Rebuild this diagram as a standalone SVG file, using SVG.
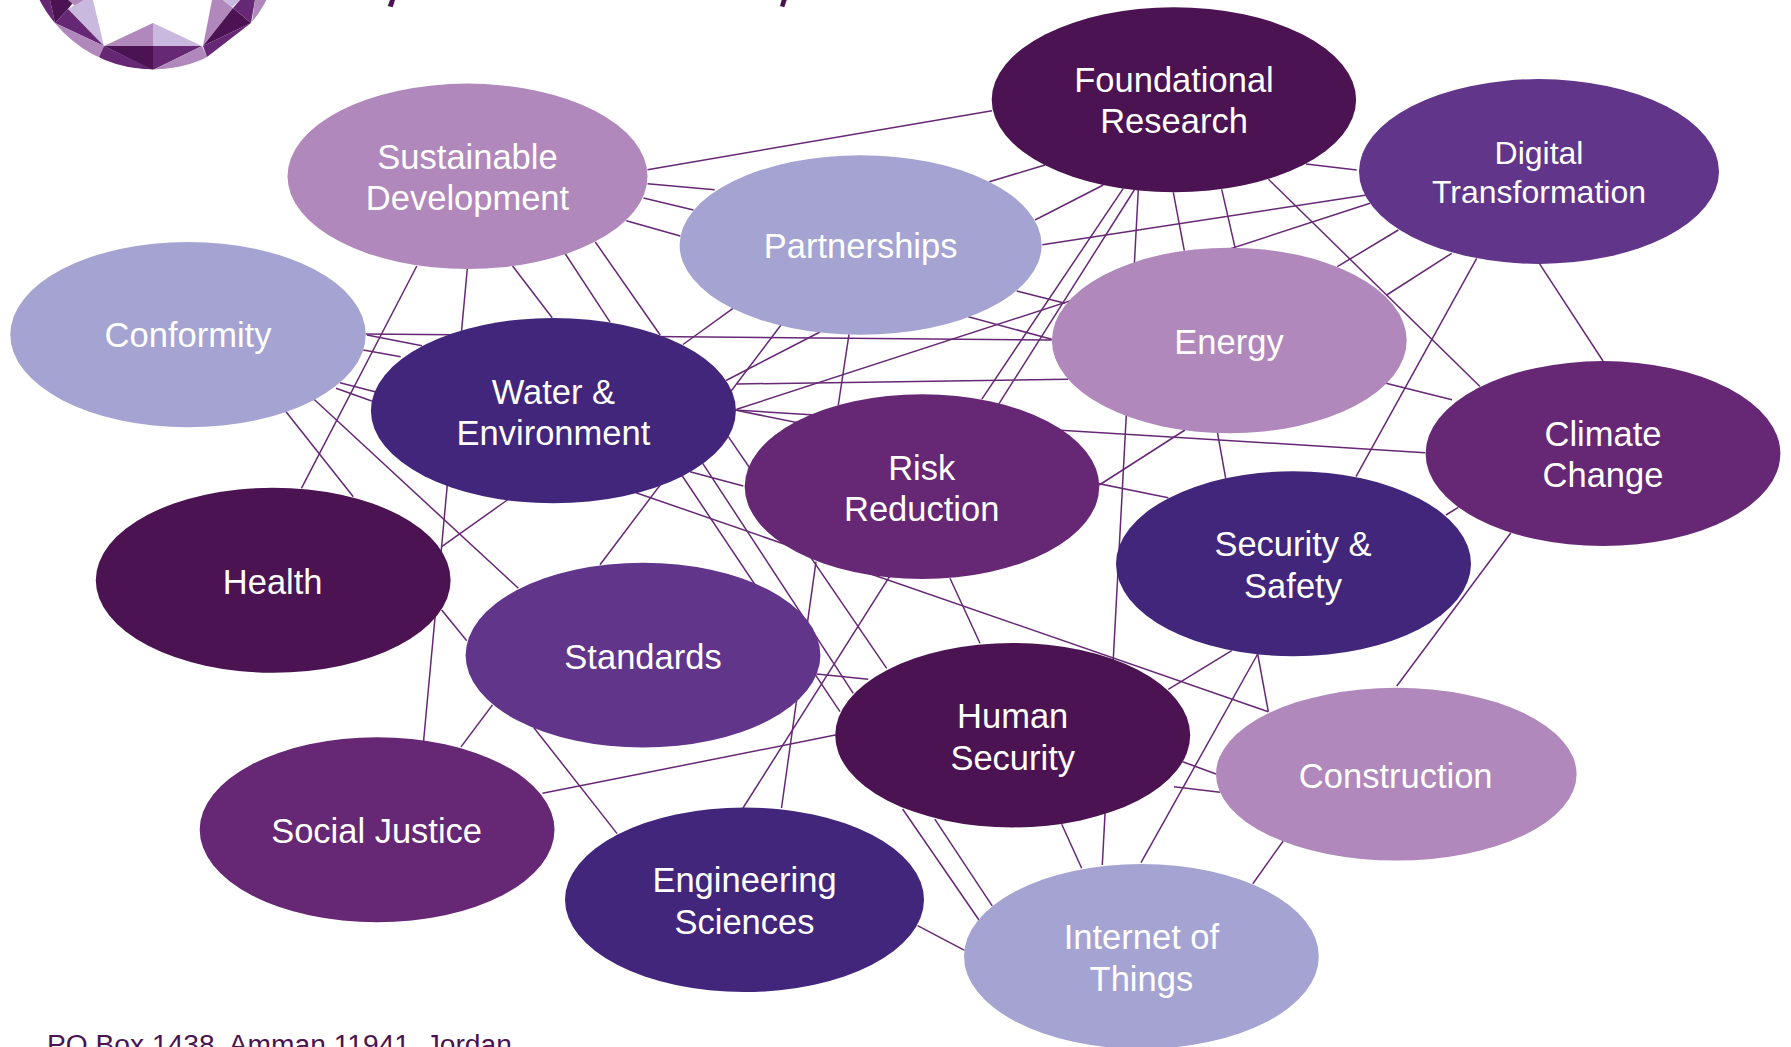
<svg xmlns="http://www.w3.org/2000/svg" width="1791" height="1047" viewBox="0 0 1791 1047">
<defs>
<style>
text{font-family:"Liberation Sans",Arial,sans-serif;fill:#fff;text-anchor:middle;font-size:34.5px}
#connectors line{stroke:#662875;stroke-width:1.5;fill:none}
.c1{fill:#b088bb}.c2{fill:#a5a3d1}.c3{fill:#41267b}.c4{fill:#4b1352}.c5{fill:#60358a}.c6{fill:#662875}.c7{fill:#c9b9de}
text.small{font-size:32px}
text.foot{font-size:28.2px;fill:#4b1352;text-anchor:start}
</style>
<clipPath id="logoClip"><circle cx="153" cy="-58" r="127.4"/></clipPath>
</defs>
<rect width="1791" height="1047" fill="#fff"/>
<g id="logo" clip-path="url(#logoClip)">
<polygon class="c6" points="30,0 50,0 55,23"/>
<polygon class="c4" points="50,0 75,0 68,9 55,23"/>
<polygon class="c1" points="68,0 84,0 75,6"/>
<polygon class="c7" points="68,9 84,0 93,0 104,46"/>
<polygon class="c6" points="55,23 68,9 104,46"/>
<polygon class="c1" points="45,15 55,23 104,46 99,57 70,55"/>
<polygon class="c6" points="104,46 99,57 110,66 153,70 153,69.4"/>
<polygon class="c1" points="104,46 153,23 153,46"/>
<polygon class="c7" points="153,23 153,46 202,46"/>
<polygon class="c4" points="104,46 153,46 153,70"/>
<polygon class="c6" points="153,46 202,46 153,70"/>
<polygon class="c1" points="202,46 207,57 190,68 153,70"/>
<polygon class="c1" points="212,0 203,46 233,8 223,0"/>
<polygon class="c7" points="223,0 240,0 232,7"/>
<polygon class="c4" points="233,8 203,46 251,23"/>
<polygon class="c6" points="203,46 251,23 207,57"/>
<polygon class="c6" points="233,8 240,0 255,0 251,23"/>
<polygon class="c1" points="255,0 270,0 252,22"/>
</g>
<polygon class="c4" points="390,0 395,0 392.7,7.3 387.7,6"/>
<polygon class="c4" points="781.7,0 786.7,0 784.3,7.3 780,6"/>
<g id="connectors">
<line x1="647.5" y1="169.7" x2="992" y2="110.7"/>
<line x1="647.5" y1="183.7" x2="714.7" y2="189.7"/>
<line x1="643.5" y1="198" x2="693.5" y2="210"/>
<line x1="626.3" y1="220.7" x2="680.3" y2="236"/>
<line x1="416.8" y1="266" x2="301.4" y2="488.3"/>
<line x1="467.3" y1="268.7" x2="423.6" y2="741"/>
<line x1="512.6" y1="266" x2="552.2" y2="317.7"/>
<line x1="565.4" y1="254" x2="610.2" y2="322.3"/>
<line x1="595.3" y1="242" x2="660.2" y2="335"/>
<line x1="1016.7" y1="291" x2="1065" y2="303.3"/>
<line x1="968.3" y1="316.7" x2="1051.7" y2="339.3"/>
<line x1="728.3" y1="436.7" x2="886.7" y2="668.3"/>
<line x1="702.7" y1="463.3" x2="853.3" y2="693.3"/>
<line x1="682.3" y1="476" x2="840" y2="711.7"/>
<line x1="365.7" y1="334" x2="1051.7" y2="340"/>
<line x1="367" y1="335" x2="422" y2="345.7"/>
<line x1="363.3" y1="350" x2="400.7" y2="356.7"/>
<line x1="340" y1="382.7" x2="375" y2="391.7"/>
<line x1="336" y1="388.3" x2="371.7" y2="401"/>
<line x1="314" y1="399.3" x2="518.4" y2="588.3"/>
<line x1="286" y1="411.7" x2="353.3" y2="496.7"/>
<line x1="441.7" y1="546.7" x2="507.3" y2="500"/>
<line x1="441.7" y1="610" x2="466.7" y2="640.7"/>
<line x1="683" y1="344.5" x2="733" y2="308.3"/>
<line x1="600" y1="564.7" x2="781" y2="325"/>
<line x1="726" y1="380.5" x2="820" y2="332"/>
<line x1="849" y1="334.3" x2="838.3" y2="405"/>
<line x1="736.7" y1="409.3" x2="1370" y2="203.3"/>
<line x1="736.7" y1="384" x2="1068.3" y2="379.3"/>
<line x1="735" y1="410" x2="1425" y2="452.7"/>
<line x1="735" y1="410" x2="1168.3" y2="497.7"/>
<line x1="690" y1="471.7" x2="743.3" y2="486"/>
<line x1="636" y1="492.7" x2="1268.3" y2="711.7"/>
<line x1="816" y1="561.7" x2="781.5" y2="808"/>
<line x1="950" y1="578.3" x2="980" y2="643.3"/>
<line x1="816.7" y1="674" x2="868.3" y2="679.3"/>
<line x1="542.5" y1="793.3" x2="835.3" y2="735.1"/>
<line x1="461" y1="746.9" x2="492.5" y2="704.9"/>
<line x1="533.9" y1="727.7" x2="617.1" y2="833.6"/>
<line x1="902.6" y1="809" x2="979" y2="920"/>
<line x1="934.8" y1="819.2" x2="992.2" y2="905.9"/>
<line x1="1061.7" y1="824.3" x2="1081.7" y2="868.3"/>
<line x1="1138.3" y1="190" x2="1102.3" y2="865"/>
<line x1="1257.7" y1="654" x2="1141" y2="862.7"/>
<line x1="1257.7" y1="654" x2="1268.3" y2="711.7"/>
<line x1="1231.7" y1="650.7" x2="1168.3" y2="689.3"/>
<line x1="1182.7" y1="761.7" x2="1216" y2="774"/>
<line x1="1174" y1="786.7" x2="1220" y2="792.3"/>
<line x1="1283.2" y1="841" x2="1252.8" y2="883.7"/>
<line x1="917.6" y1="925.7" x2="964.6" y2="950.3"/>
<line x1="1510.9" y1="532.7" x2="1396.8" y2="686"/>
<line x1="1446" y1="515" x2="1458.3" y2="507.3"/>
<line x1="1217.3" y1="431.7" x2="1225.7" y2="478.3"/>
<line x1="1099.3" y1="485" x2="1185" y2="430"/>
<line x1="1476.7" y1="258.3" x2="1356" y2="476.7"/>
<line x1="1539.3" y1="263.3" x2="1603" y2="361"/>
<line x1="1386" y1="383.3" x2="1452" y2="399.7"/>
<line x1="1268.5" y1="179.3" x2="1480" y2="386.5"/>
<line x1="1306" y1="164" x2="1356.7" y2="170"/>
<line x1="1042.3" y1="244.7" x2="1366.7" y2="195"/>
<line x1="1398.3" y1="230" x2="1337.3" y2="266.7"/>
<line x1="1451.7" y1="253.3" x2="1386.7" y2="295"/>
<line x1="1173.3" y1="192.3" x2="1184.3" y2="250.7"/>
<line x1="1221.7" y1="189.3" x2="1235" y2="247.3"/>
<line x1="1103.3" y1="185" x2="1035" y2="220"/>
<line x1="1045" y1="165" x2="989.3" y2="181.7"/>
<line x1="1123.3" y1="188.3" x2="981.7" y2="399.3"/>
<line x1="1134.3" y1="190" x2="743" y2="808"/>
</g>
<g id="node-sustainable"><ellipse class="c1" cx="467.5" cy="176.3" rx="180" ry="92.7"/><text x="467.5" y="168.5">Sustainable</text><text x="467.5" y="210.3">Development</text></g>
<g id="node-conformity"><ellipse class="c2" cx="188" cy="334.6" rx="177.7" ry="92.7"/><text x="188" y="347.3">Conformity</text></g>
<g id="node-water"><ellipse class="c3" cx="553.4" cy="410.6" rx="182.5" ry="92.7"/><text x="553.4" y="403.6">Water &amp;</text><text x="553.4" y="444.6">Environment</text></g>
<g id="node-partnerships"><ellipse class="c2" cx="860.6" cy="245" rx="181" ry="89.8"/><text x="860.6" y="258">Partnerships</text></g>
<g id="node-foundational"><ellipse class="c4" cx="1173.9" cy="99.8" rx="182.2" ry="92.5"/><text x="1174" y="92.3">Foundational</text><text x="1174" y="133.3">Research</text></g>
<g id="node-digital"><ellipse class="c5" cx="1539" cy="171.5" rx="180" ry="92.4"/><text class="small" x="1539" y="164.3">Digital</text><text class="small" x="1539" y="202.7">Transformation</text></g>
<g id="node-energy"><ellipse class="c1" cx="1229.3" cy="340.5" rx="177.4" ry="92.7"/><text x="1229" y="353.5">Energy</text></g>
<g id="node-climate"><ellipse class="c6" cx="1603" cy="453.6" rx="177.4" ry="92.5"/><text x="1603" y="446.3">Climate</text><text x="1603" y="487">Change</text></g>
<g id="node-risk"><ellipse class="c6" cx="922" cy="486.6" rx="177.3" ry="92.4"/><text x="921.7" y="479.5">Risk</text><text x="921.7" y="520.7">Reduction</text></g>
<g id="node-security"><ellipse class="c3" cx="1293.5" cy="563.8" rx="177.5" ry="92.5"/><text x="1293" y="556.3">Security &amp;</text><text x="1293" y="598">Safety</text></g>
<g id="node-health"><ellipse class="c4" cx="273.2" cy="580.2" rx="177.4" ry="92.5"/><text x="272.7" y="593.5">Health</text></g>
<g id="node-standards"><ellipse class="c5" cx="643" cy="655.2" rx="177.4" ry="92.4"/><text x="643" y="668.7">Standards</text></g>
<g id="node-social"><ellipse class="c6" cx="377.1" cy="829.8" rx="177.4" ry="92.5"/><text x="376.6" y="842.8">Social Justice</text></g>
<g id="node-engineering"><ellipse class="c3" cx="744.5" cy="899.8" rx="179.5" ry="92.3"/><text x="744.5" y="892">Engineering</text><text x="744.5" y="934">Sciences</text></g>
<g id="node-human"><ellipse class="c4" cx="1012.7" cy="735.2" rx="177.5" ry="92.2"/><text x="1012.7" y="728">Human</text><text x="1012.7" y="769.8">Security</text></g>
<g id="node-construction"><ellipse class="c1" cx="1396.3" cy="774.2" rx="180.3" ry="86.4"/><text x="1395.7" y="788">Construction</text></g>
<g id="node-internet"><ellipse class="c2" cx="1141.4" cy="956.4" rx="177.4" ry="92.5"/><text x="1141.4" y="949.3">Internet of</text><text x="1141.4" y="990.5">Things</text></g>
<text class="foot" x="47" y="1054">PO Box 1438, Amman 11941, Jordan</text>
</svg>
